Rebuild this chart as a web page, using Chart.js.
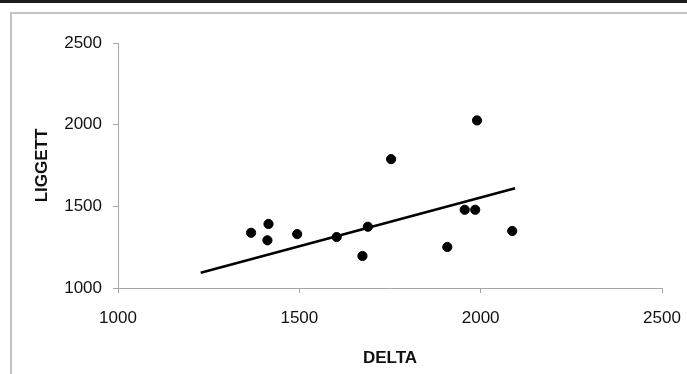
<!DOCTYPE html>
<html>
<head>
<meta charset="utf-8">
<script src="https://cdn.jsdelivr.net/npm/chart.js@4/dist/chart.umd.min.js"></script>
<style>
  html, body { margin: 0; padding: 0; background: #fff; }
  #wrap { position: relative; width: 687px; height: 374px; overflow: hidden; }
  #topbar { position: absolute; left: 0; top: 0; width: 687px; height: 3px; background: #1c1c1c; }
  #frame { position: absolute; left: 10px; top: 12px; width: 700px; height: 400px;
           border-left: 2px solid #c4c4c4; border-top: 2px solid #c4c4c4; }
  #chart { position: absolute; left: 0; top: 0; }
</style>
</head>
<body>
<div id="wrap">
  <div id="topbar"></div>
  <div id="frame"></div>
  <canvas id="chart" width="687" height="374"></canvas>
</div>
<script>
// scatter values
const delta = [1367, 1415, 1412, 1494, 1603, 1674, 1689, 1753, 1908, 1956, 1985, 1990, 2087];
const liggett = [1338, 1392, 1292, 1330, 1312, 1196, 1375, 1789, 1251, 1479, 1479, 2026, 1349];
// trend line end points
const trendDelta = [1228, 2095];
const trendLiggett = [1094, 1611];
const axisTicks = [1000, 1500, 2000, 2500];

const points = delta.map((x, i) => ({ x, y: liggett[i] }));
const trend = trendDelta.map((x, i) => ({ x, y: trendLiggett[i] }));

const tickFont = { family: '"Liberation Sans", Arial, sans-serif', size: 17 };
const titleFont = { family: '"Liberation Sans", Arial, sans-serif', size: 17, weight: 'bold' };
const axisColor = '#a6a6a6';
const plain = (v) => String(v);

new Chart(document.getElementById('chart'), {
  type: 'scatter',
  data: {
    datasets: [
      {
        data: points,
        backgroundColor: '#000',
        borderColor: '#000',
        pointRadius: 4.6,
        pointHoverRadius: 4.6,
      },
      {
        type: 'line',
        data: trend,
        borderColor: '#000',
        borderWidth: 2.6,
        pointRadius: 0,
        fill: false,
      },
    ],
  },
  options: {
    responsive: false,
    animation: false,
    events: [],
    layout: { padding: { top: 43, right: 25, bottom: 0, left: 0 } },
    plugins: { legend: { display: false }, tooltip: { enabled: false } },
    scales: {
      x: {
        type: 'linear',
        min: 1000,
        max: 2500,
        afterBuildTicks: (s) => { s.ticks = axisTicks.map((v) => ({ value: v })); },
        afterFit: (s) => { s.height = 86; s.paddingLeft = 0; s.paddingRight = 0; },
        grid: { drawOnChartArea: false, drawTicks: true, tickLength: 5, color: axisColor },
        border: { display: true, color: axisColor, width: 1 },
        ticks: { font: tickFont, color: '#111', padding: 15, maxRotation: 0, callback: plain },
        title: { display: true, text: 'DELTA', font: titleFont, color: '#111', padding: { top: 0, bottom: 5 } },
      },
      y: {
        type: 'linear',
        min: 1000,
        max: 2500,
        afterBuildTicks: (s) => { s.ticks = axisTicks.map((v) => ({ value: v })); },
        afterFit: (s) => { s.width = 118; s.paddingTop = 0; s.paddingBottom = 0; },
        grid: { drawOnChartArea: false, drawTicks: true, tickLength: 5, color: axisColor },
        border: { display: true, color: axisColor, width: 1 },
        ticks: { font: tickFont, color: '#111', padding: 11, callback: plain },
        title: { display: true, text: 'LIGGETT', font: titleFont, color: '#111', padding: { top: 32, bottom: 0 } },
      },
    },
  },
});
</script>
</body>
</html>
